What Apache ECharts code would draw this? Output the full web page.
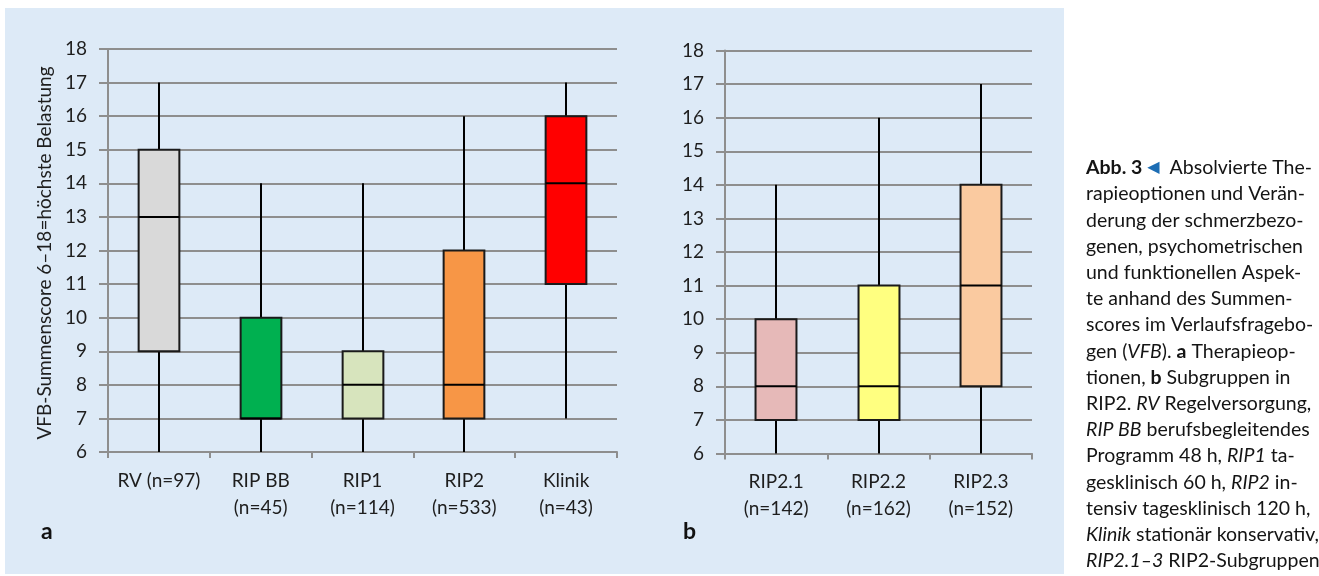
<!DOCTYPE html>
<html>
<head>
<meta charset="utf-8">
<script src="https://cdn.jsdelivr.net/npm/echarts@6/dist/echarts.min.js"></script>
<style>
  html, body { margin: 0; padding: 0; background: #ffffff; }
  #chart { width: 1319px; height: 576px; }
</style>
</head>
<body>
<div id="chart"></div>
<script>
// Panel a: therapy options
const categoriesA = ['RV (n=97)', 'RIP BB\n(n=45)', 'RIP1\n(n=114)', 'RIP2\n(n=533)', 'Klinik\n(n=43)'];
const minA    = [6, 6, 6, 6, 7];
const q1A     = [9, 7, 7, 7, 11];
const medianA = [13, 7, 8, 8, 14];
const q3A     = [15, 10, 9, 12, 16];
const maxA    = [17, 14, 14, 16, 17];

// Panel b: RIP2 subgroups
const categoriesB = ['RIP2.1\n(n=142)', 'RIP2.2\n(n=162)', 'RIP2.3\n(n=152)'];
const minB    = [6, 6, 6];
const q1B     = [7, 7, 8];
const medianB = [8, 8, 11];
const q3B     = [10, 11, 14];
const maxB    = [14, 16, 17];

// Shared y scale tick values
const yTicks = [6, 7, 8, 9, 10, 11, 12, 13, 14, 15, 16, 17, 18];

const yAxisTitle = 'VFB-Summenscore 6–18=höchste Belastung';

const captionLines = [
  '{b|Abb. 3} {tri|◀}  Absolvierte The-',
  'rapieoptionen und Verän-',
  'derung der schmerzbezo-',
  'genen, psychometrischen',
  'und funktionellen Aspek-',
  'te anhand des Summen-',
  'scores im Verlaufsfragebo-',
  'gen ({i|VFB}). {b|a} Therapieop-',
  'tionen, {b|b} Subgruppen in',
  'RIP2. {i|RV} Regelversorgung,',
  '{i|RIP BB} berufsbegleitendes',
  'Programm 48 h, {i|RIP1} ta-',
  'gesklinisch 60 h, {i|RIP2} in-',
  'tensiv tagesklinisch 120 h,',
  '{i|Klinik} stationär konservativ,',
  '{i|RIP2.1–3} RIP2-Subgruppen'
];

const fillsA = ['#d9d9d9', '#00b050', '#d7e4bd', '#f79646', '#ff0000'];
const fillsB = ['#e6b9b8', '#ffff80', '#facaa0'];

const FONT = 'Lato, "Noto Sans", sans-serif';
const GRID_COLOR = '#8e8e8e';
const CAPTION_SIZE = 19.5;

function boxRows(mins, q1s, meds, q3s, maxs) {
  return mins.map((m, i) => [i, m, q1s[i], meds[i], q3s[i], maxs[i]]);
}

// Box with whiskers (no end caps), drawn through the axes' own coordinates
function makeRenderer(fills) {
  return function (params, api) {
    const i = api.value(0);
    const lo = api.coord([i, api.value(1)]);
    const q1 = api.coord([i, api.value(2)]);
    const md = api.coord([i, api.value(3)]);
    const q3 = api.coord([i, api.value(4)]);
    const hi = api.coord([i, api.value(5)]);
    const w = api.size([1, 0])[0] * 0.4;
    const cx = Math.round(lo[0]);
    const left = cx - w / 2;
    const lineStyle = { stroke: '#000000', lineWidth: 2 };
    return {
      type: 'group',
      children: [
        { type: 'line', shape: { x1: cx, y1: hi[1], x2: cx, y2: q3[1] }, style: lineStyle },
        { type: 'line', shape: { x1: cx, y1: q1[1], x2: cx, y2: lo[1] }, style: lineStyle },
        { type: 'rect', shape: { x: left, y: q3[1], width: w, height: q1[1] - q3[1] },
          style: { fill: fills[i], stroke: '#1a1a1a', lineWidth: 2 } },
        { type: 'line', shape: { x1: left, y1: md[1], x2: left + w, y2: md[1] }, style: lineStyle }
      ]
    };
  };
}

function yAxisCfg(gridIndex) {
  return {
    type: 'value', gridIndex,
    min: yTicks[0], max: yTicks[yTicks.length - 1], interval: 1,
    axisLine: { show: true, lineStyle: { color: GRID_COLOR, width: 2 } },
    axisTick: { show: true, length: 9, lineStyle: { color: GRID_COLOR, width: 2 } },
    axisLabel: { margin: 21, fontFamily: FONT, fontSize: 19, color: '#1e1e1e' },
    splitLine: { show: true, lineStyle: { color: GRID_COLOR, width: 2 } }
  };
}

function xAxisCfg(gridIndex, cats) {
  return {
    type: 'category', gridIndex, data: cats, boundaryGap: true,
    axisLine: { show: true, lineStyle: { color: GRID_COLOR, width: 2 } },
    axisTick: { show: true, length: 6, lineStyle: { color: GRID_COLOR, width: 2 } },
    axisLabel: { margin: 15, fontFamily: FONT, fontSize: 19, lineHeight: 27, color: '#1e1e1e', interval: 0 }
  };
}

const captionGraphics = captionLines.map((line, k) => ({
  type: 'text',
  left: 1086,
  top: 155 + k * 26.2,
  z: 10,
  style: {
    text: line,
    fontFamily: FONT,
    fontSize: CAPTION_SIZE,
    lineHeight: 26,
    fill: '#141414',
    rich: {
      b: { fontFamily: FONT, fontSize: CAPTION_SIZE, fontWeight: 'bold', fill: '#141414' },
      i: { fontFamily: FONT, fontSize: CAPTION_SIZE, fontStyle: 'italic', fill: '#141414' },
      tri: { fontFamily: '"DejaVu Sans", sans-serif', fontSize: 16, fill: '#1c6db4' }
    }
  }
}));

const chart = echarts.init(document.getElementById('chart'), null, { renderer: 'canvas' });

chart.setOption({
  backgroundColor: '#ffffff',
  animation: false,
  grid: [
    { left: 108, top: 49, width: 509, height: 403 },
    { left: 725, top: 50.5, width: 307, height: 403 }
  ],
  xAxis: [xAxisCfg(0, categoriesA), xAxisCfg(1, categoriesB)],
  yAxis: [yAxisCfg(0), yAxisCfg(1)],
  series: [
    {
      type: 'custom', xAxisIndex: 0, yAxisIndex: 0,
      renderItem: makeRenderer(fillsA),
      encode: { x: 0, y: [1, 2, 3, 4, 5] },
      data: boxRows(minA, q1A, medianA, q3A, maxA), z: 5
    },
    {
      type: 'custom', xAxisIndex: 1, yAxisIndex: 1,
      renderItem: makeRenderer(fillsB),
      encode: { x: 0, y: [1, 2, 3, 4, 5] },
      data: boxRows(minB, q1B, medianB, q3B, maxB), z: 5
    }
  ],
  graphic: [
    { type: 'rect', shape: { x: 5, y: 8, width: 1059, height: 566 }, style: { fill: '#ddeaf7' }, z: -10, silent: true },
    {
      type: 'text', x: 45, y: 253, rotation: Math.PI / 2, z: 10,
      style: { text: yAxisTitle, fontFamily: FONT, fontSize: 19, fill: '#1e1e1e', align: 'center', verticalAlign: 'middle' }
    },
    { type: 'text', left: 41, top: 520, z: 10, style: { text: 'a', fontFamily: FONT, fontSize: 23, fontWeight: 'bold', fill: '#111' } },
    { type: 'text', left: 683, top: 520, z: 10, style: { text: 'b', fontFamily: FONT, fontSize: 23, fontWeight: 'bold', fill: '#111' } }
  ].concat(captionGraphics)
});
</script>
</body>
</html>
